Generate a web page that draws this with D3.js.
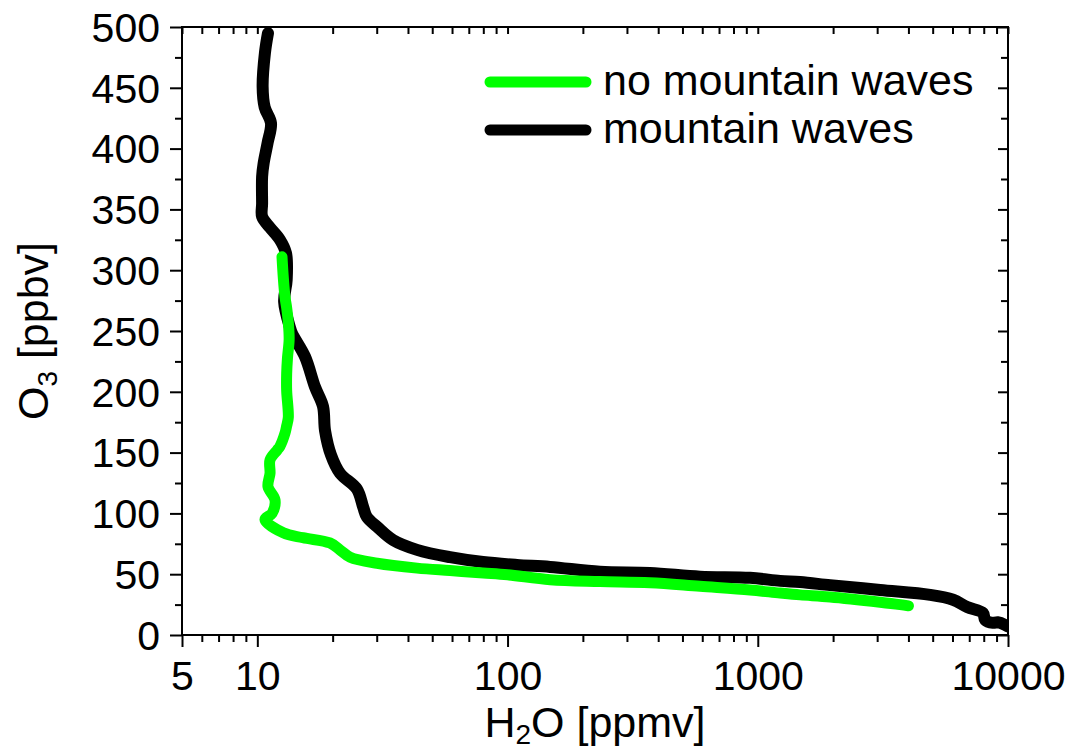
<!DOCTYPE html>
<html><head><meta charset="utf-8">
<script src="https://cdn.jsdelivr.net/npm/d3@7"></script>
<style>
body{margin:0;background:#fff}
svg{display:block}
text{font-family:"Liberation Sans",Arial,Helvetica,sans-serif;fill:#000}
</style>
</head><body>
<svg id="c" width="1077" height="752"></svg>
<script>
// ---- data ----
const xTickValues = [5, 10, 100, 1000, 10000];
const yTickValues = [0, 50, 100, 150, 200, 250, 300, 350, 400, 450, 500];
const seriesNames = ["no mountain waves", "mountain waves"];
const seriesColors = ["#00ff00", "#000000"];

// no mountain waves (H2O ppmv, O3 ppbv)
const noWavesH2O = [12.55, 12.7, 12.9, 13.1, 13.3, 13.4, 13.2, 13.1, 13.1, 13.3, 13.1, 12.9, 12.3, 12.0, 11.24, 11.24, 11.03, 11.77, 11.45, 10.73, 12.7, 15.2, 19.5, 21.4, 23.5, 30.1, 43.5, 58.9, 80, 100, 148, 234, 371, 588, 931, 1228, 1476, 1945, 3082, 3706, 4000];
const noWavesO3  = [311, 294, 278, 269, 257, 243, 228, 215, 201, 179, 172, 166, 155, 152, 144, 133, 122, 111, 100, 95, 84, 80, 75.7, 70, 64, 59, 55, 53, 51, 49.5, 45.5, 44, 43, 40, 37, 34.5, 33, 31.3, 27, 25, 24];

// mountain waves
const wavesH2O = [11.03, 10.73, 10.5, 10.7, 11.34, 11.0, 10.6, 10.45, 10.45, 10.45, 11.24, 12.32, 13.02, 13.1, 12.8, 13.5, 13.76, 15.5, 17.0, 18.3, 18.65, 19.7, 21.4, 25.0, 26.5, 27.4, 30.1, 34.9, 43.5, 58.9, 79.8, 109, 148, 234, 371, 588, 931, 1228, 1476, 1945, 3082, 4883, 6030, 6866, 7950, 8100, 8717, 9100, 10000];
const wavesO3  = [495, 479, 451, 434, 421, 405, 388, 377, 355, 344, 335, 325, 314, 292, 274, 253, 248, 229, 204, 188, 168, 148, 133, 120, 105, 97, 89, 78, 70, 64, 60, 57.6, 56, 52, 51, 48, 47, 44.5, 43.5, 41, 37, 33, 29, 23, 18, 12.5, 10, 10.5, 7];

// ---- layout ----
const svg = d3.select("#c");
const L = 182, R = 1008, T = 27, B = 635;
const x = d3.scaleLog().domain([5, 10000]).range([L, R]);
const y = d3.scaleLinear().domain([0, 500]).range([B, T]);
const FONT = "Liberation Sans, Arial, sans-serif";

svg.append("defs").append("clipPath").attr("id", "clip")
  .append("rect").attr("x", L).attr("y", T).attr("width", R - L).attr("height", B - T);

// data lines
const line = d3.line().x(d => x(d[0])).y(d => y(d[1])).curve(d3.curveCatmullRom.alpha(0.5));
const plot = svg.append("g").attr("clip-path", "url(#clip)");
const wavesData = wavesH2O.map((v, i) => [v, wavesO3[i]]);
const noWavesData = noWavesH2O.map((v, i) => [v, noWavesO3[i]]);
plot.append("path").datum(wavesData).attr("d", line)
  .attr("fill", "none").attr("stroke", seriesColors[1]).attr("stroke-width", 12)
  .attr("stroke-linejoin", "round").attr("stroke-linecap", "round");
plot.append("path").datum(noWavesData).attr("d", line)
  .attr("fill", "none").attr("stroke", seriesColors[0]).attr("stroke-width", 11)
  .attr("stroke-linejoin", "round").attr("stroke-linecap", "round");

// minor ticks
const allX = x.ticks();
const minorX = allX.filter(v => !xTickValues.includes(v));
const minorY = d3.range(25, 500, 50);

// bottom axis
const gx = svg.append("g").attr("transform", `translate(0,${B})`)
  .call(d3.axisBottom(x).tickValues(xTickValues).tickSize(12).tickSizeOuter(0).tickPadding(14).tickFormat(d3.format("d")));
gx.select(".domain").remove();
gx.selectAll("line").attr("stroke-width", 2);
gx.selectAll("text").attr("font-size", 41).attr("font-family", FONT);
const gxm = svg.append("g").attr("transform", `translate(0,${B})`)
  .call(d3.axisBottom(x).tickValues(minorX).tickSize(7).tickFormat(""));
gxm.select(".domain").remove();
gxm.selectAll("line").attr("stroke-width", 2);

// top axis (inward)
const gt = svg.append("g").attr("transform", `translate(0,${T})`)
  .call(d3.axisBottom(x).tickValues(allX).tickSize(7).tickFormat(""));
gt.select(".domain").remove();
gt.selectAll("line").attr("stroke-width", 2);

// left axis
const gy = svg.append("g").attr("transform", `translate(${L},0)`)
  .call(d3.axisLeft(y).tickValues(yTickValues).tickSize(12).tickSizeOuter(0).tickPadding(10));
gy.select(".domain").remove();
gy.selectAll("line").attr("stroke-width", 2);
gy.selectAll("text").attr("font-size", 41).attr("font-family", FONT).attr("dy", "0.35em");
const gym = svg.append("g").attr("transform", `translate(${L},0)`)
  .call(d3.axisLeft(y).tickValues(minorY).tickSize(7).tickFormat(""));
gym.select(".domain").remove();
gym.selectAll("line").attr("stroke-width", 2);

// right axis (inward)
const gr = svg.append("g").attr("transform", `translate(${R},0)`)
  .call(d3.axisRight(y).tickValues(yTickValues).tickSize(-10).tickFormat(""));
gr.select(".domain").remove();
gr.selectAll("line").attr("stroke-width", 2);
const grm = svg.append("g").attr("transform", `translate(${R},0)`)
  .call(d3.axisRight(y).tickValues(minorY).tickSize(-7).tickFormat(""));
grm.select(".domain").remove();
grm.selectAll("line").attr("stroke-width", 2);

// frame
svg.append("rect").attr("x", L).attr("y", T).attr("width", R - L).attr("height", B - T)
  .attr("fill", "none").attr("stroke", "#000").attr("stroke-width", 2);

// axis titles
const xt = svg.append("text").attr("x", (L + R) / 2).attr("y", 737)
  .attr("text-anchor", "middle").attr("font-size", 43);
xt.append("tspan").text("H");
xt.append("tspan").attr("font-size", 28).attr("dy", 7).text("2");
xt.append("tspan").attr("dy", -7).text("O [ppmv]");

const yt = svg.append("text").attr("transform", `translate(48,${(T + B) / 2}) rotate(-90)`)
  .attr("text-anchor", "middle").attr("font-size", 43);
yt.append("tspan").text("O");
yt.append("tspan").attr("font-size", 28).attr("dy", 9).text("3");
yt.append("tspan").attr("dy", -9).text(" [ppbv]");

// legend
const legY = [82, 130];
const legOrder = [0, 1];
legOrder.forEach((k, i) => {
  svg.append("line").attr("x1", 490).attr("x2", 586).attr("y1", legY[i]).attr("y2", legY[i])
    .attr("stroke", seriesColors[k]).attr("stroke-width", 11).attr("stroke-linecap", "round");
  svg.append("text").attr("x", 603).attr("y", legY[i] + 13).attr("font-size", 43).text(seriesNames[k]);
});
</script>
</body></html>
